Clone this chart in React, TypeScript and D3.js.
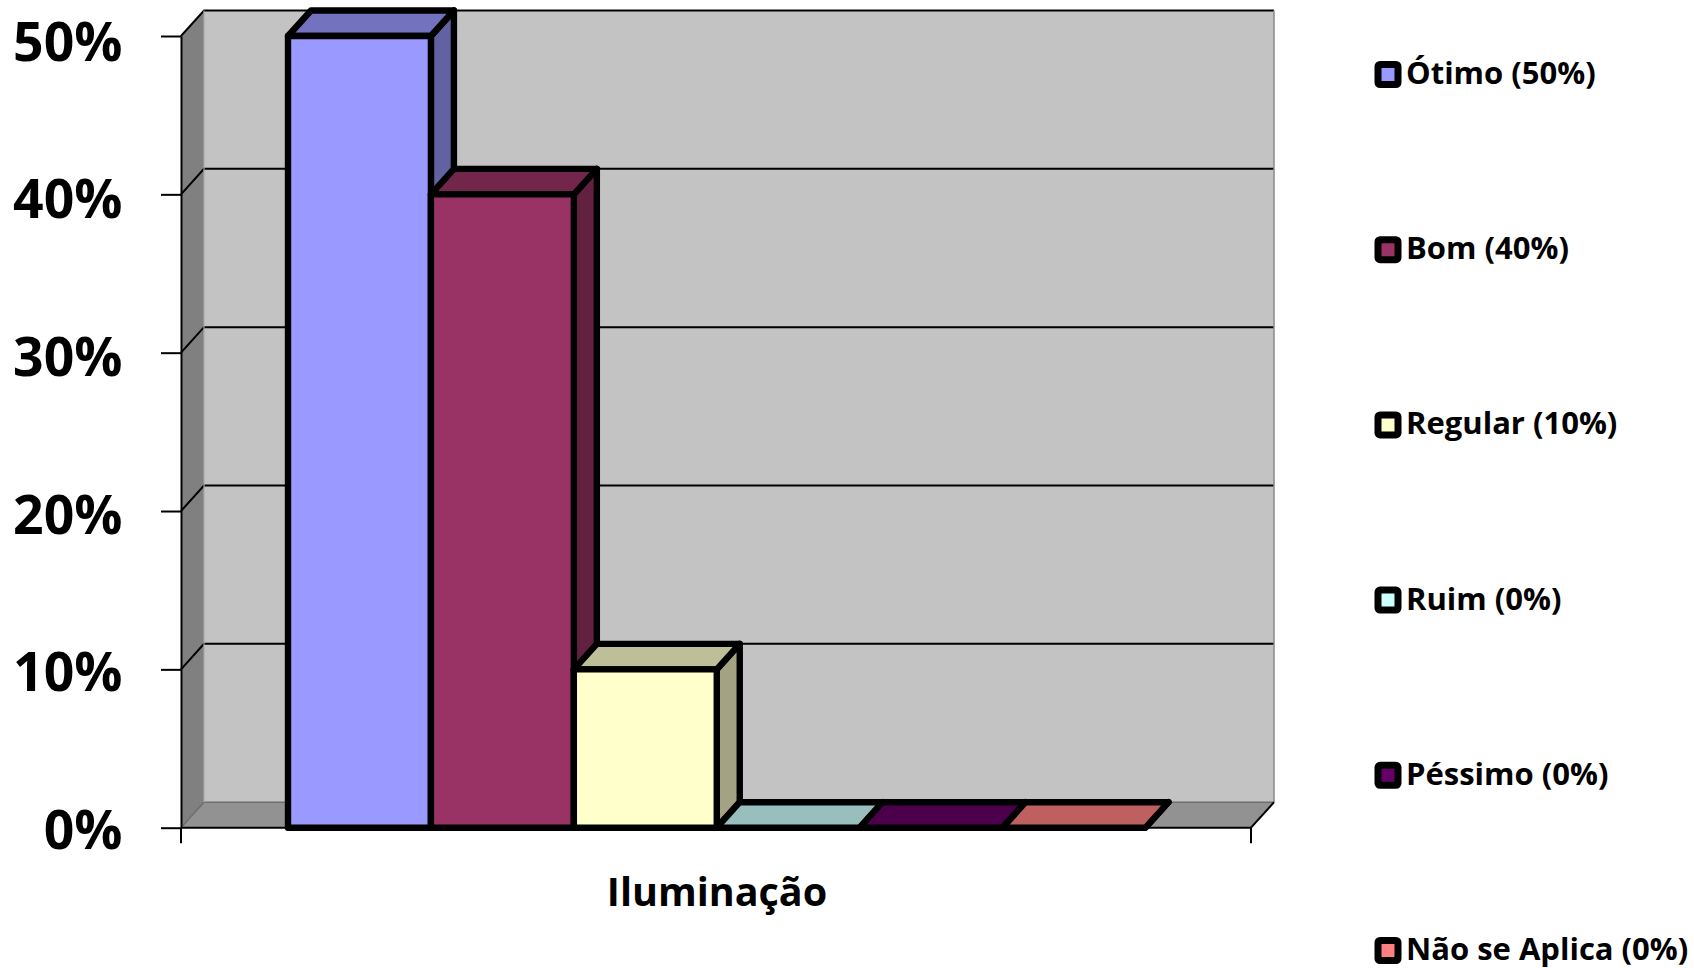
import React, { useRef, useEffect } from 'react';
import * as d3 from 'd3';

const categoryName = 'Iluminação';
const seriesNames = ['Ótimo', 'Bom', 'Regular', 'Ruim', 'Péssimo', 'Não se Aplica'];
const seriesValues = [50, 40, 10, 0, 0, 0];
const seriesColors = ['#9999FF', '#993366', '#FFFFCC', '#CCFFFF', '#660066', '#FF8080'];
const yTicks = [0, 10, 20, 30, 40, 50];

const FONT = '"Open Sans", sans-serif';

const App = () => {
  const svgRef = useRef<SVGSVGElement>(null);

  useEffect(() => {
    const svg = d3.select(svgRef.current);
    svg.selectAll('*').remove();

    // caixa 3D: frente e deslocamento da parede do fundo
    const x0 = 181;
    const x1 = 1251;
    const dx = 23;
    const dy = 25.5;

    const y = d3.scaleLinear().domain([0, 50]).range([827.7, 36]);
    const x = d3.scaleBand().domain(seriesNames).range([288, 1145.5]);
    // os rótulos do eixo não ficam exatamente alinhados com as marcas
    const labelOffset = d3.scaleLinear().domain([0, 50]).range([3.5, 7]);
    const y0 = y(0);
    const yTop = y(50);

    const poly = (pts: number[][]) => pts.map((p) => p.join(',')).join(' ');

    // paredes
    svg.append('polygon')
      .attr('points', poly([[x0 + dx, yTop - dy], [x1 + dx, yTop - dy], [x1 + dx, y0 - dy], [x0 + dx, y0 - dy]]))
      .attr('fill', '#C3C3C3');
    svg.append('polygon')
      .attr('points', poly([[x0, yTop], [x0 + dx, yTop - dy], [x0 + dx, y0 - dy], [x0, y0]]))
      .attr('fill', '#808080');
    svg.append('polygon')
      .attr('points', poly([[x0, y0], [x0 + dx, y0 - dy], [x1 + dx, y0 - dy], [x1, y0]]))
      .attr('fill', '#929292');

    // linhas de grade
    yTicks.forEach((t) => {
      const yy = y(t);
      const isBase = t === 0;
      svg.append('polyline')
        .attr('points', poly([[x0, yy], [x0 + dx, yy - dy], [x1 + dx, yy - dy]]))
        .attr('fill', 'none')
        .attr('stroke', isBase ? '#6e6e6e' : '#000')
        .attr('stroke-width', isBase ? 1.5 : 2);
    });
    svg.append('line')
      .attr('x1', x1 + dx).attr('x2', x1 + dx)
      .attr('y1', yTop - dy).attr('y2', y0 - dy)
      .attr('stroke', '#8a8a8a').attr('stroke-width', 1.5);
    svg.append('line')
      .attr('x1', x0 + dx).attr('x2', x0 + dx)
      .attr('y1', yTop - dy).attr('y2', y0 - dy)
      .attr('stroke', '#a8a8a8').attr('stroke-width', 1.2);

    // eixos
    const yAxis = svg.append('g')
      .attr('transform', `translate(${x0},0)`)
      .call(d3.axisLeft(y).tickValues(yTicks).tickSize(20).tickSizeOuter(0).tickPadding(38.5).tickFormat((d) => `${d}%`));
    yAxis.select('.domain').attr('stroke', '#000').attr('stroke-width', 2);
    yAxis.selectAll('line').attr('stroke', '#000').attr('stroke-width', 2);
    yAxis.selectAll('text')
      .attr('y', (d: any) => labelOffset(d))
      .attr('font-family', FONT)
      .attr('font-weight', 700)
      .attr('font-size', 53.5)
      .attr('fill', '#000');

    const floor = svg.append('g').attr('stroke', '#000').attr('stroke-width', 2);
    floor.append('line').attr('x1', x0).attr('x2', x1).attr('y1', y0).attr('y2', y0);
    [x0, x1].forEach((px) => {
      floor.append('line').attr('x1', px).attr('x2', px).attr('y1', y0).attr('y2', y0 + 15.5);
    });
    floor.append('line').attr('x1', x1).attr('x2', x1 + dx).attr('y1', y0).attr('y2', y0 - dy);

    // barras
    seriesNames.forEach((name, i) => {
      const left = x(name) as number;
      const right = left + x.bandwidth();
      const top = y(seriesValues[i]);
      const color = seriesColors[i];
      const g = svg.append('g')
        .attr('stroke', '#000')
        .attr('stroke-width', 6.4)
        .attr('stroke-linejoin', 'round');
      g.append('polygon')
        .attr('points', poly([[right, top], [right + dx, top - dy], [right + dx, y0 - dy], [right, y0]]))
        .attr('fill', d3.rgb(color).darker(1.25).formatHex());
      g.append('polygon')
        .attr('points', poly([[left, top], [left + dx, top - dy], [right + dx, top - dy], [right, top]]))
        .attr('fill', d3.rgb(color).darker(0.82).formatHex());
      g.append('rect')
        .attr('x', left).attr('y', top)
        .attr('width', right - left).attr('height', y0 - top)
        .attr('fill', color);
    });

    // rótulo da categoria
    svg.append('text')
      .attr('x', (x0 + x1) / 2 + 1)
      .attr('y', 906)
      .attr('text-anchor', 'middle')
      .attr('font-family', FONT)
      .attr('font-weight', 700)
      .attr('font-size', 39.5)
      .text(categoryName);

    // legenda
    const legendY = d3.scalePoint().domain(seriesNames).range([74.5, 950.5]);
    seriesNames.forEach((name, i) => {
      const cy = legendY(name) as number;
      svg.append('rect')
        .attr('x', 1378).attr('y', cy - 10)
        .attr('width', 20).attr('height', 20)
        .attr('rx', 2)
        .attr('fill', seriesColors[i])
        .attr('stroke', '#000')
        .attr('stroke-width', 7);
      svg.append('text')
        .attr('x', 1406)
        .attr('y', cy + 9.5)
        .attr('font-family', FONT)
        .attr('font-weight', 700)
        .attr('font-size', 31)
        .text(`${name} (${seriesValues[i]}%)`);
    });
  }, []);

  return (
    <svg
      ref={svgRef}
      width={1694}
      height={968}
      style={{ position: 'absolute', left: 0, top: 0, background: '#fff' }}
    />
  );
};

export default App;
